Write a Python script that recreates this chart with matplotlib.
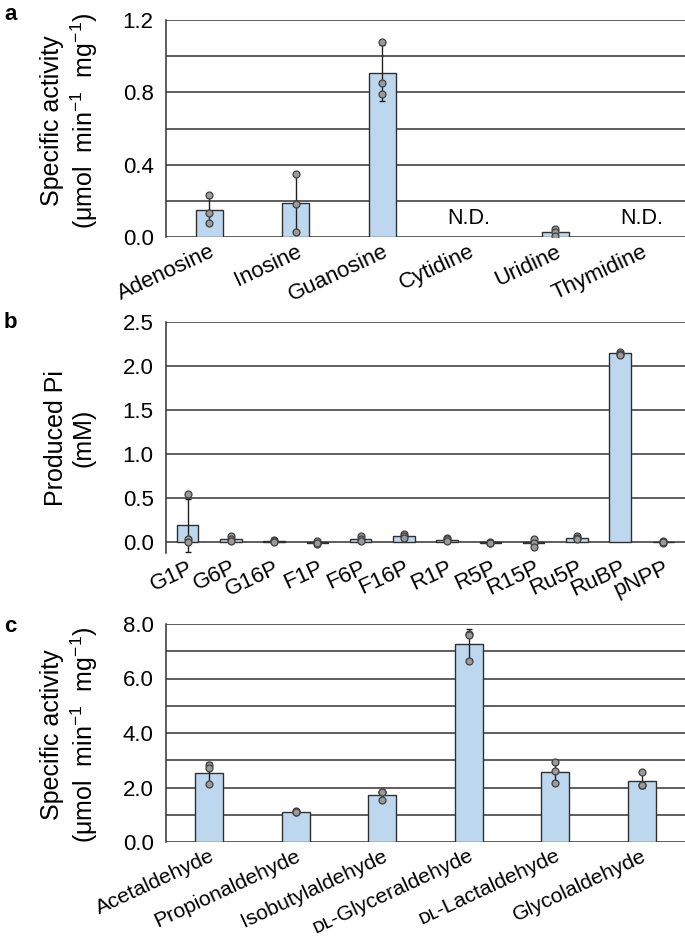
import matplotlib
matplotlib.use('Agg')
import matplotlib.pyplot as plt
import numpy as np

plt.rcParams['font.family'] = ['Liberation Sans', 'DejaVu Sans']
plt.rcParams['mathtext.default'] = 'regular'

# panel a: nucleosides (replicates, None = not detected)
nuc_names = ['Adenosine', 'Inosine', 'Guanosine', 'Cytidine', 'Uridine', 'Thymidine']
nuc_reps = [[0.23, 0.13, 0.08], [0.35, 0.18, 0.03], [1.08, 0.85, 0.79],
            None, [0.046, 0.03, 0.007], None]

# panel b: sugar phosphates (mM Pi)
sp_names = ['G1P', 'G6P', 'G16P', 'F1P', 'F6P', 'F16P',
            'R1P', 'R5P', 'R15P', 'Ru5P', 'RuBP', 'pNPP']
sp_reps = [[0.54, 0.03, -0.005], [0.07, 0.03, 0.01], [0.02, 0.01, 0.005],
           [0.01, -0.02, -0.01], [0.07, 0.03, 0.01], [0.09, 0.07, 0.05],
           [0.045, 0.03, 0.01], [0.0, -0.01, -0.01], [0.035, -0.01, -0.055],
           [0.07, 0.04, 0.03], [2.16, 2.14, 2.13], [0.01, -0.01, 0.0]]

# panel c: aldehydes
ald_names = ['Acetaldehyde', 'Propionaldehyde', 'Isobutylaldehyde',
             '\u1d05\u029f-Glyceraldehyde', '\u1d05\u029f-Lactaldehyde', 'Glycolaldehyde']
ald_reps = [[2.81, 2.72, 2.12], [1.14, 1.11, 1.09], [1.84, 1.82, 1.53],
            [7.62, 7.58, 6.64], [2.94, 2.62, 2.17], [2.57, 2.11, 2.08]]

W, H = 685, 941
fig = plt.figure(figsize=(W / 100, H / 100), dpi=100)

BAR = '#bdd7ee'
EDGE = '#303030'
GRID = '#333333'


def px_axes(left, top, right, bottom):
    return fig.add_axes([left / W, 1 - bottom / H, (right - left) / W, (bottom - top) / H])


def panel(ax, names, reps, width, ymin, ymax, step, labels, xfs=16):
    x = np.arange(len(names))
    for i, r in enumerate(reps):
        if r is None:
            ax.text(i, 0.035 * (ymax - ymin), 'N.D.', ha='center', va='bottom', fontsize=15.5)
            continue
        r = np.array(r)
        m, s = r.mean(), r.std(ddof=1)
        ax.bar(i, m, width, color=BAR, edgecolor=EDGE, linewidth=1.0, zorder=3)
        ax.errorbar(i, m, yerr=s, fmt='none', ecolor='#202020', elinewidth=1.0,
                    capsize=2.5, capthick=1.0, zorder=4)
        ax.plot(np.full(len(r), i), r, 'o', ms=5, mfc='#9a9a9a', mec='#404040',
                mew=0.9, zorder=5)
    ax.set_xlim(-0.5, len(names) - 0.5)
    ax.set_ylim(ymin, ymax)
    ticks = np.arange(0, ymax + step / 2, step)
    ax.set_yticks(ticks)
    ax.set_yticklabels(labels)
    for t in ticks:
        ax.axhline(t, color=GRID, lw=1.1, zorder=1)
    ax.set_xticks(x)
    ax.set_xticklabels(names, rotation=25, ha='right', rotation_mode='anchor', fontsize=xfs)
    ax.tick_params(axis='y', length=0, pad=9, labelsize=16)
    ax.tick_params(axis='x', length=0, pad=3)
    for sp in ['top', 'right', 'bottom']:
        ax.spines[sp].set_visible(False)
    ax.spines['left'].set_color(GRID)
    ax.spines['left'].set_linewidth(1.1)


ax_a = px_axes(166, 20, 685, 237)
panel(ax_a, nuc_names, nuc_reps, 0.31, 0, 1.2, 0.2,
      ['0.0', '', '0.4', '', '0.8', '', '1.2'])

ax_b = px_axes(166, 322, 685, 553)
panel(ax_b, sp_names, sp_reps, 0.5, -0.125, 2.5, 0.5,
      ['0.0', '0.5', '1.0', '1.5', '2.0', '2.5'])

ax_c = px_axes(166, 624, 685, 842)
panel(ax_c, ald_names, ald_reps, 0.32, 0, 8, 1,
      ['0.0', '', '2.0', '', '4.0', '', '6.0', '', '8.0'], xfs=15.3)

ylab = 'Specific activity\n(\u03bcmol  min$^{-1}$  mg$^{-1}$)'
fig.text(70 / W, 1 - 121 / H, ylab, rotation=90, ha='center', va='center',
         fontsize=18, linespacing=1.2)
fig.text(70 / W, 1 - 438 / H, 'Produced Pi\n(mM)', rotation=90, ha='center',
         va='center', fontsize=18, linespacing=1.2)
fig.text(70 / W, 1 - 735 / H, ylab, rotation=90, ha='center', va='center',
         fontsize=18, linespacing=1.2)

for lab, y in [('a', 15), ('b', 323), ('c', 627)]:
    fig.text(4 / W, 1 - y / H, lab, fontsize=16, fontweight='bold', va='center', ha='left')

fig.savefig('out.png', dpi=100)
